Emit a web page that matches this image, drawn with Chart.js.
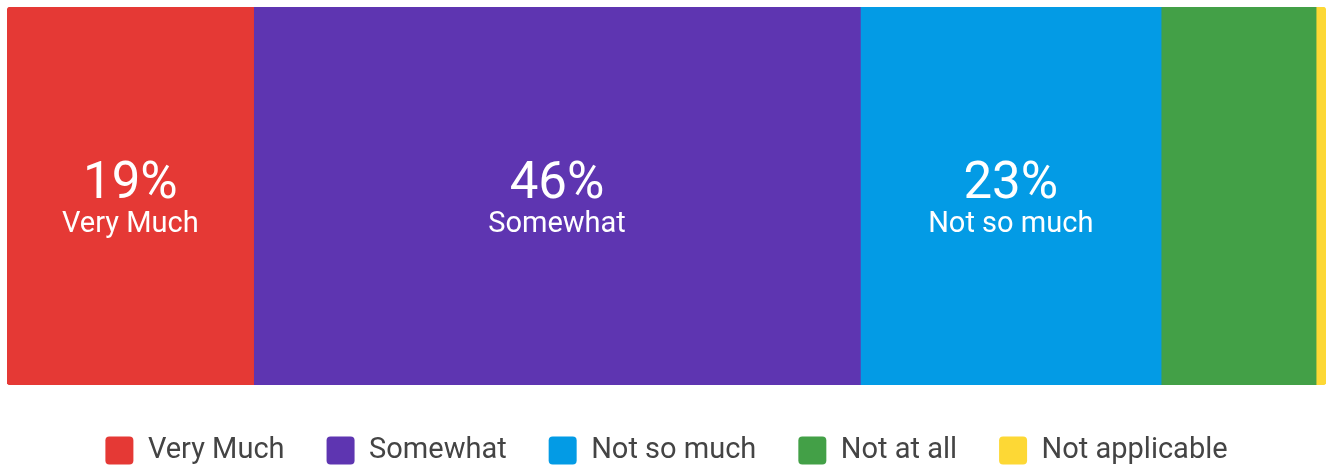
<!DOCTYPE html>
<html>
<head>
<meta charset="utf-8">
<script src="https://cdn.jsdelivr.net/npm/chart.js@4/dist/chart.umd.min.js"></script>
<style>
  html, body { margin: 0; padding: 0; background: #fff; }
  #wrap { width: 1328px; height: 468px; }
</style>
</head>
<body>
<div id="wrap"><canvas id="answers"></canvas></div>
<script>
var categories = ['Very Much', 'Somewhat', 'Not so much', 'Not at all', 'Not applicable'];
var shares = [18.7, 46, 22.8, 11.75, 0.75];
var colors = ['#e53935', '#5e35b1', '#039be5', '#43a047', '#fdd835'];

// only segments wide enough get a label inside
var minLabelShare = 15;

var datasets = categories.map(function(name, i){
    var radius = 0;
    if (i == 0) radius = {topLeft: 4, bottomLeft: 4};
    if (i == categories.length - 1) radius = {topRight: 4, bottomRight: 4};
    return {
        label: name,
        data: [shares[i]],
        backgroundColor: colors[i],
        borderWidth: 0,
        borderRadius: radius,
        borderSkipped: false,
        barPercentage: 1,
        categoryPercentage: 1
    };
});

var segmentLabels = {
    id: 'segmentLabels',
    afterDatasetsDraw: function(chart){
        var ctx = chart.ctx;
        ctx.save();
        ctx.fillStyle = '#fff';
        ctx.textAlign = 'center';
        ctx.textBaseline = 'middle';
        chart.data.datasets.forEach(function(ds, i){
            var v = ds.data[0];
            if (v < minLabelShare) return;
            var bar = chart.getDatasetMeta(i).data[0];
            var cx = (bar.x + bar.base) / 2;
            ctx.font = '51px Roboto';
            ctx.fillText(Math.round(v) + '%', cx, bar.y - 11);
            ctx.font = '29px Roboto';
            ctx.fillText(ds.label, cx, bar.y + 29);
        });
        ctx.restore();
    }
};

// keep the legend low and tight under the bar
var legendHeight = {
    id: 'legendHeight',
    beforeInit: function(chart){
        var fit = chart.legend.fit;
        chart.legend.fit = function(){
            fit.bind(chart.legend)();
            this.height = 83;
        };
    },
    afterLayout: function(chart){
        chart.legend.top += 9;
        chart.legend.bottom += 9;
    }
};

var ctx = document.getElementById('answers');
var chart = new Chart(ctx, {
    type: 'bar',
    data: {
        labels: [''],
        datasets: datasets
    },
    options: {
        indexAxis: 'y',
        responsive: true,
        maintainAspectRatio: false,
        animation: false,
        layout: {
            padding: {left: 7, right: 2, top: 7, bottom: 0}
        },
        scales: {
            x: {stacked: true, display: false, min: 0, max: 100},
            y: {stacked: true, display: false}
        },
        plugins: {
            tooltip: {enabled: false},
            legend: {
                position: 'bottom',
                labels: {
                    boxWidth: 28,
                    boxHeight: 28,
                    useBorderRadius: true,
                    borderRadius: 4,
                    padding: 42,
                    color: '#444',
                    font: {family: 'Roboto', size: 29}
                }
            }
        }
    },
    plugins: [segmentLabels, legendHeight]
});
</script>
</body>
</html>
